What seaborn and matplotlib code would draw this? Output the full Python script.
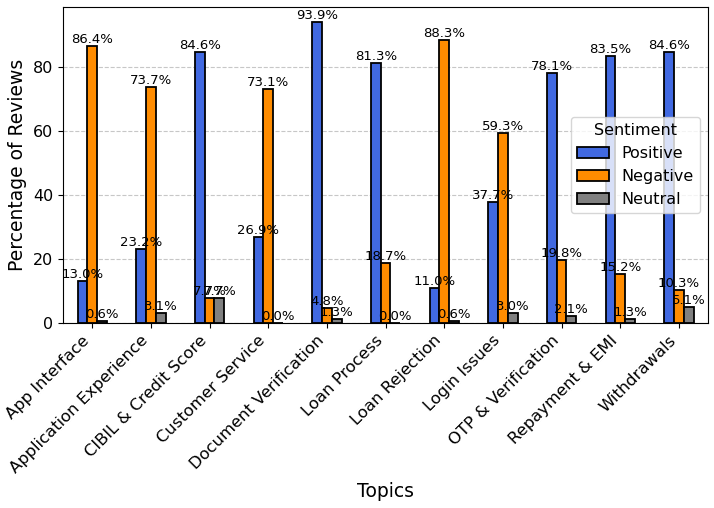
import pandas as pd
import seaborn as sns
import matplotlib.pyplot as plt

topics = ['App Interface', 'Application Experience', 'CIBIL & Credit Score', 'Customer Service',
          'Document Verification', 'Loan Process', 'Loan Rejection', 'Login Issues',
          'OTP & Verification', 'Repayment & EMI', 'Withdrawals']
positive = [13.0, 23.2, 84.6, 26.9, 93.9, 81.3, 11.0, 37.7, 78.1, 83.5, 84.6]
negative = [86.4, 73.7, 7.7, 73.1, 4.8, 18.7, 88.3, 59.3, 19.8, 15.2, 10.3]
neutral = [0.6, 3.1, 7.7, 0.0, 1.3, 0.0, 0.6, 3.0, 2.1, 1.3, 5.1]

sentimientos = ['Positive', 'Negative', 'Neutral']
colores = ['royalblue', 'darkorange', 'grey']

datos = pd.DataFrame({'Topic': topics, 'Positive': positive, 'Negative': negative, 'Neutral': neutral})
datos_largos = datos.melt(id_vars='Topic', var_name='Sentiment', value_name='Percentage')

fig, ax = plt.subplots(figsize=(7.14, 5.08), dpi=100)
sns.barplot(data=datos_largos, x='Topic', y='Percentage', hue='Sentiment', hue_order=sentimientos,
            palette=colores, width=0.5, edgecolor='black', linewidth=1.3, saturation=1, ax=ax)

# Etiquetas de porcentaje sobre cada barra
for contenedor in ax.containers:
    ax.bar_label(contenedor, fmt='%.1f%%', fontsize=9.5)

ax.set_xlabel('Topics', fontsize=13.5)
ax.set_ylabel('Percentage of Reviews', fontsize=13.5)
ax.tick_params(axis='y', labelsize=11.5)
ax.tick_params(axis='x', labelsize=11.8)
plt.setp(ax.get_xticklabels(), rotation=45, ha='right')
ax.set_ylim(0, 98.6)
ax.yaxis.grid(True, linestyle='--', alpha=0.7)
ax.set_axisbelow(True)
for sp in ax.spines.values():
    sp.set_color('black')
ax.legend(title='Sentiment', loc='center right', fontsize=11.5, title_fontsize=11.5)

plt.subplots_adjust(left=0.088, right=0.992, top=0.986, bottom=0.364)
plt.savefig('out.png', dpi=100)
